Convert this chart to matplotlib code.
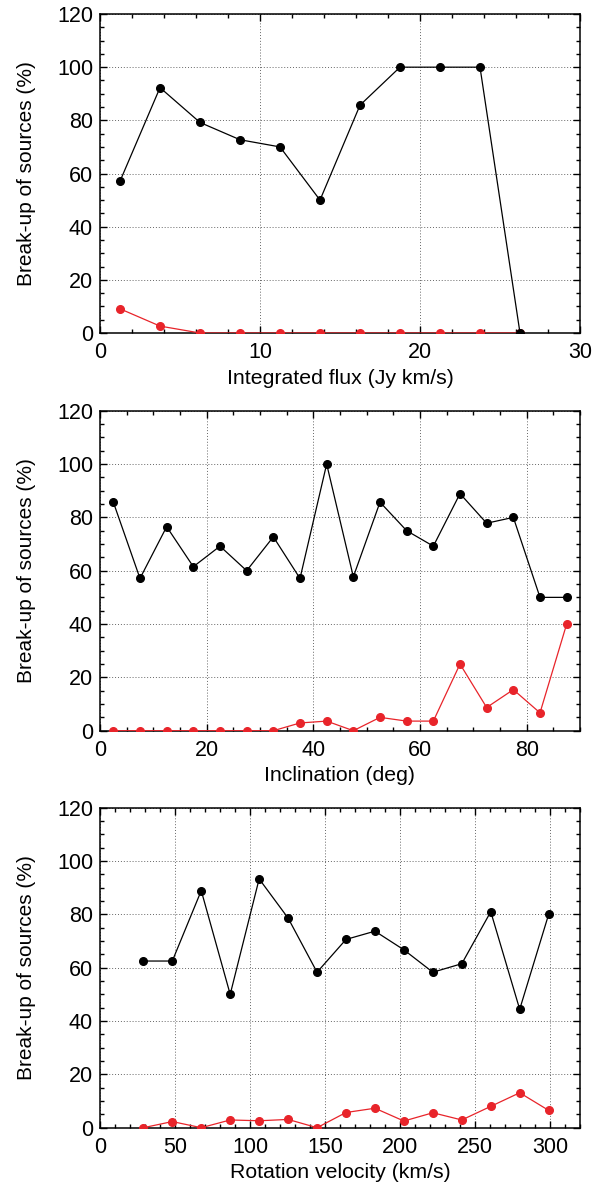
import matplotlib
matplotlib.use('Agg')
from matplotlib import pyplot as plt
from matplotlib.ticker import MultipleLocator

plt.rcParams['font.family'] = ['Liberation Sans', 'DejaVu Sans']

# integrated flux panel
flux_x = [1.25, 3.75, 6.25, 8.75, 11.25, 13.75, 16.25, 18.75, 21.25, 23.75, 26.25]
flux_black = [57.1, 92.3, 79.2, 72.7, 70.0, 50.0, 85.7, 100, 100, 100, 0]
flux_red = [9.1, 2.6, 0, 0, 0, 0, 0, 0, 0, 0, 0]

# inclination panel
incl_x = [2.5, 7.5, 12.5, 17.5, 22.5, 27.5, 32.5, 37.5, 42.5, 47.5,
          52.5, 57.5, 62.5, 67.5, 72.5, 77.5, 82.5, 87.5]
incl_black = [85.7, 57.1, 76.5, 61.5, 69.2, 60.0, 72.7, 57.1, 100, 57.7,
              85.7, 75.0, 69.2, 88.9, 77.8, 80.0, 50.0, 50.0]
incl_red = [0, 0, 0, 0, 0, 0, 0, 2.9, 3.6, 0,
            5.0, 3.6, 3.6, 25.0, 8.7, 15.4, 6.7, 40.0]

# rotation velocity panel
rot_x = [28.9, 48.2, 67.5, 86.8, 106.1, 125.4, 144.7, 164.0, 183.3, 202.6,
         221.9, 241.2, 260.5, 279.8, 299.1]
rot_black = [62.5, 62.5, 88.9, 50.0, 93.3, 78.6, 58.3, 70.6, 73.7, 66.7,
             58.3, 61.5, 81.0, 44.4, 80.0]
rot_red = [0, 2.3, 0, 2.9, 2.6, 3.1, 0, 5.7, 7.3, 2.5,
           5.6, 2.9, 8.0, 13.1, 6.5]

panels = [
    (flux_x, flux_black, flux_red, 'Integrated flux (Jy km/s)', 30, 10, 2),
    (incl_x, incl_black, incl_red, 'Inclination (deg)', 90, 20, 5),
    (rot_x, rot_black, rot_red, 'Rotation velocity (km/s)', 320, 50, 10),
]

fig = plt.figure(figsize=(6.01, 11.87), dpi=100)
W, H = 601.0, 1187.0
tops = [14, 410.7, 807.7]
bottoms = [333, 730.7, 1127.7]

for (x, yb, yr, xlabel, xmax, xmaj, xmin), t, b in zip(panels, tops, bottoms):
    ax = fig.add_axes([100 / W, 1 - b / H, 480 / W, (b - t) / H])
    ax.plot(x, yr, '-o', color='#e8242a', lw=0.9, ms=5.5, zorder=3)
    ax.plot(x, yb, '-o', color='black', lw=0.9, ms=5.5, zorder=4)
    ax.set_xlim(0, xmax)
    ax.set_ylim(0, 120)
    ax.xaxis.set_major_locator(MultipleLocator(xmaj))
    ax.xaxis.set_minor_locator(MultipleLocator(xmin))
    ax.yaxis.set_major_locator(MultipleLocator(20))
    ax.yaxis.set_minor_locator(MultipleLocator(5))
    ax.grid(True, which='major', linestyle=(0, (1, 2)), color='#666666', lw=0.7)
    ax.tick_params(which='both', direction='in', top=True, right=True,
                   labelsize=15.5, width=1)
    ax.tick_params(which='major', length=5)
    ax.tick_params(which='minor', length=3)
    ax.tick_params(axis='x', which='major', pad=6.5)
    ax.tick_params(axis='y', which='major', pad=5)
    for s in ax.spines.values():
        s.set_linewidth(1.1)
    ax.set_xlabel(xlabel, fontsize=15.3, labelpad=4)
    ax.set_ylabel('Break-up of sources (%)', fontsize=15, labelpad=15)

fig.savefig('out.png', dpi=100)
